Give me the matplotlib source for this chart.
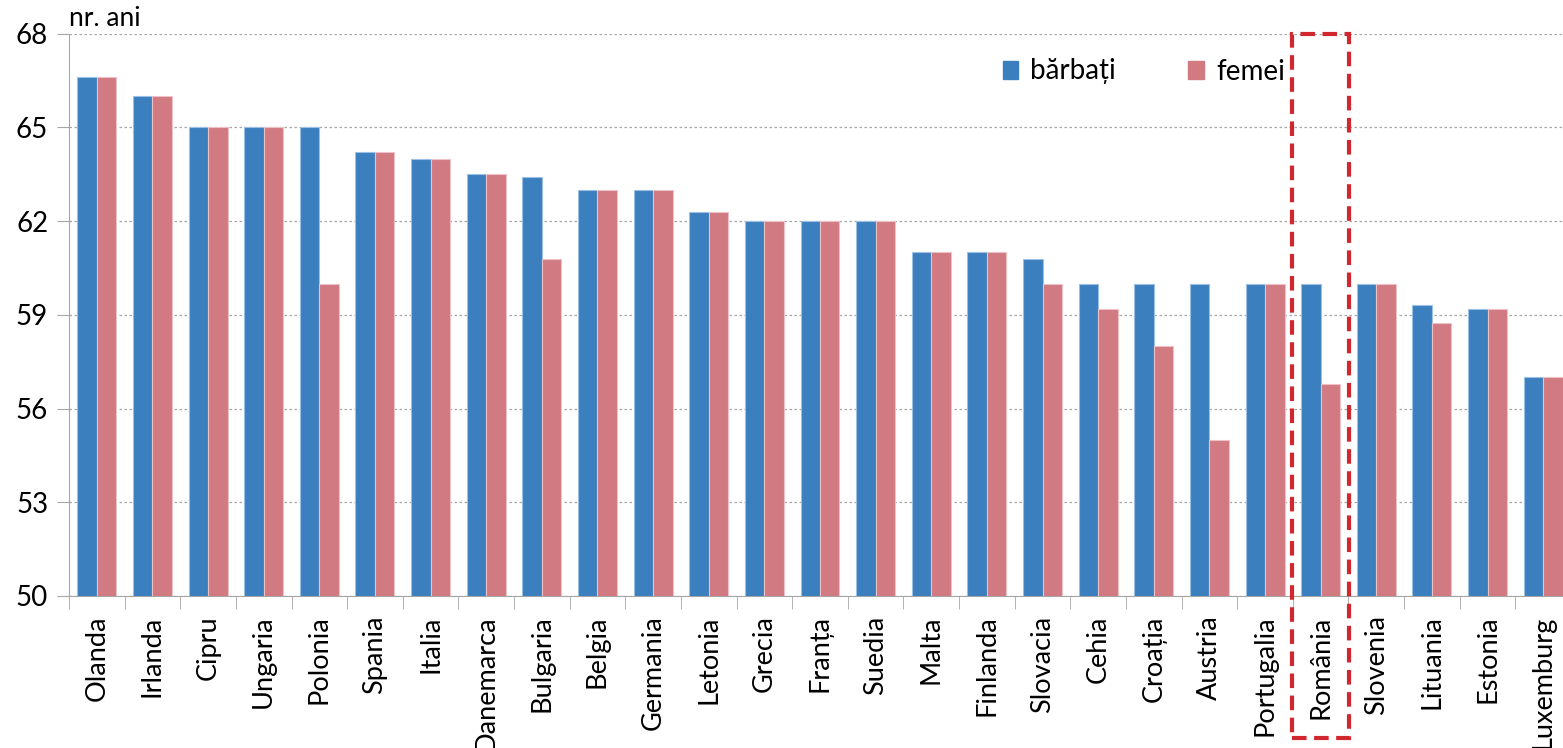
import matplotlib.pyplot as plt
import numpy as np
from matplotlib.patches import Patch, Rectangle

plt.rcParams['font.family'] = ['Lato', 'DejaVu Sans']

# date
tari = ['Olanda', 'Irlanda', 'Cipru', 'Ungaria', 'Polonia', 'Spania', 'Italia',
        'Danemarca', 'Bulgaria', 'Belgia', 'Germania', 'Letonia', 'Grecia',
        'Franța', 'Suedia', 'Malta', 'Finlanda', 'Slovacia', 'Cehia', 'Croația',
        'Austria', 'Portugalia', 'România', 'Slovenia', 'Lituania', 'Estonia',
        'Luxemburg']
barbati = [66.6, 66, 65, 65, 65, 64.2, 64, 63.5, 63.4, 63, 63, 62.3, 62, 62, 62,
           61, 61, 60.8, 60, 60, 60, 60, 60, 60, 59.3, 59.2, 57]
femei = [66.6, 66, 65, 65, 60, 64.2, 64, 63.5, 60.8, 63, 63, 62.3, 62, 62, 62,
         61, 61, 60, 59.2, 58, 55, 60, 56.8, 60, 58.75, 59.2, 57]
yticks = [50, 53, 56, 59, 62, 65, 68]
evidentiat = 'România'

albastru = '#3B7FBF'
roz = '#D17A82'

fig = plt.figure(figsize=(15.63, 7.48), dpi=100)
ax = fig.add_axes([69 / 1563, 1 - 596 / 748, 1502 / 1563, 562.5 / 748])

x = np.arange(len(tari))
w = 0.35
ax.bar(x - w / 2, barbati, w, color=albastru, edgecolor='#9CC0E3', linewidth=0.8, zorder=3)
ax.bar(x + w / 2, femei, w, color=roz, edgecolor='#EDC2C6', linewidth=0.8, zorder=3)

ax.set_xlim(-0.5, len(tari) - 0.5)
ax.set_ylim(50, 68)
ax.set_yticks(yticks)
ax.tick_params(axis='y', labelsize=20, length=9, color='#A6A6A6', pad=6)
ax.yaxis.grid(True, linestyle=(0, (2, 2)), color='#A6A6A6', linewidth=0.9, zorder=0)

ax.set_xticks(x)
ax.set_xticklabels(tari, rotation=90, fontsize=19.5)
ax.set_xticks(np.arange(len(tari) + 1) - 0.5, minor=True)
ax.tick_params(axis='x', which='major', length=0, pad=14)
ax.tick_params(axis='x', which='minor', length=9, color='#A6A6A6')

for s in ['top', 'right']:
    ax.spines[s].set_visible(False)
for s in ['left', 'bottom']:
    ax.spines[s].set_color('#A6A6A6')

ax.text(0.0, 1.005, 'nr. ani', transform=ax.transAxes, fontsize=19,
        ha='left', va='bottom')

handles = [Patch(color=albastru), Patch(color=roz)]
ax.legend(handles, ['bărbați', 'femei'], loc='upper left', bbox_to_anchor=(0.605, 1.0),
          ncol=2, frameon=False, fontsize=20, handlelength=0.55, handleheight=0.6,
          handletextpad=0.45, columnspacing=2.6)

# chenarul pentru Romania
i = tari.index(evidentiat)
ax.add_patch(Rectangle((i - 0.52, 45.45), 1.03, 68 - 45.45, fill=False,
                       edgecolor='#D0282E', linewidth=3, linestyle=(0, (3.5, 1.8)),
                       clip_on=False, zorder=5))

fig.savefig('out.png', dpi=100)
